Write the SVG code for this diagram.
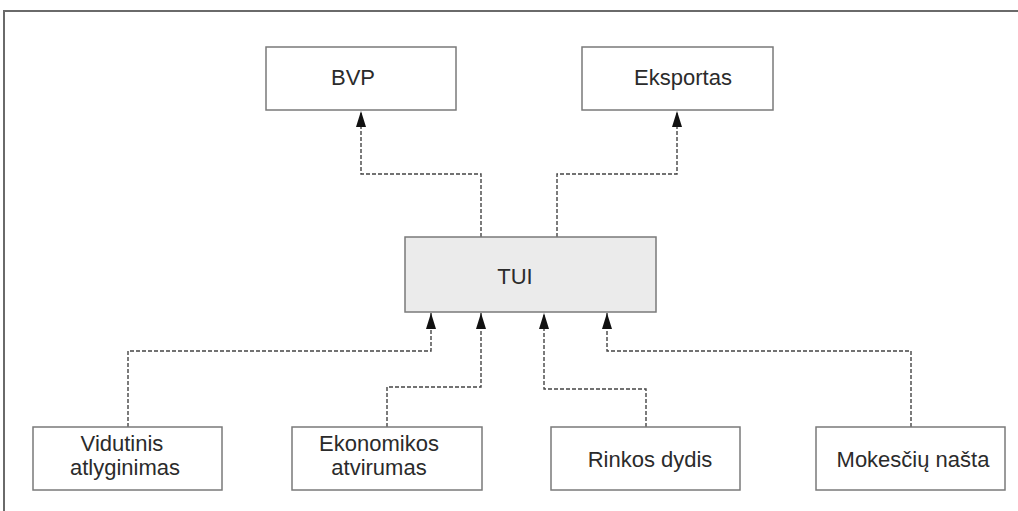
<svg xmlns="http://www.w3.org/2000/svg" width="1018" height="511" viewBox="0 0 1018 511">
<style>
.box{fill:#ffffff;stroke:#7a7a7a;stroke-width:1.5}
.hub{fill:#ebebeb;stroke:#7a7a7a;stroke-width:1.5}
.lbl{font-family:"Liberation Sans",Arial,sans-serif;font-size:22px;fill:#2b2b2b;text-anchor:middle}
.conn{fill:none;stroke:#444444;stroke-width:1.4;stroke-dasharray:4,2}
.frame{fill:none;stroke:#6a6a6a;stroke-width:2}
</style>
<defs>
<marker id="arr" markerUnits="userSpaceOnUse" markerWidth="16" markerHeight="11" viewBox="0 0 16 11" refX="16" refY="5.5" orient="auto">
<path d="M0,0.5 L16,5.5 L0,10.5 z" fill="#111111"/>
</marker>
</defs>
<rect width="1018" height="511" fill="#ffffff"/>
<path class="frame" d="M4,511 L4,11 L1018,11"/>
<g id="connectors">
<path class="conn" marker-end="url(#arr)" d="M481,237 L481,174 L361,174 L361,111"/>
<path class="conn" marker-end="url(#arr)" d="M557,237 L557,174 L677,174 L677,111"/>
<path class="conn" marker-end="url(#arr)" d="M128,427 L128,351 L431,351 L431,313"/>
<path class="conn" marker-end="url(#arr)" d="M387,427 L387,387 L481,387 L481,313"/>
<path class="conn" marker-end="url(#arr)" d="M646,427 L646,389 L544,389 L544,313"/>
<path class="conn" marker-end="url(#arr)" d="M911,427 L911,351 L607,351 L607,313"/>
</g>
<g id="bvp">
<rect class="box" x="266" y="47" width="190" height="63"/>
<text class="lbl" x="353" y="85">BVP</text>
</g>
<g id="eksportas">
<rect class="box" x="582" y="47" width="191" height="63"/>
<text class="lbl" x="683" y="85">Eksportas</text>
</g>
<g id="tui">
<rect class="hub" x="405" y="237" width="251" height="75"/>
<text class="lbl" x="515" y="284">TUI</text>
</g>
<g id="vidutinis">
<rect class="box" x="33" y="427" width="189" height="63"/>
<text class="lbl" x="122" y="451">Vidutinis</text>
<text class="lbl" x="125" y="475">atlyginimas</text>
</g>
<g id="ekonomikos">
<rect class="box" x="292" y="427" width="190" height="63"/>
<text class="lbl" x="379" y="451">Ekonomikos</text>
<text class="lbl" x="379" y="475">atvirumas</text>
</g>
<g id="rinkos">
<rect class="box" x="551" y="427" width="189" height="63"/>
<text class="lbl" x="650" y="467">Rinkos dydis</text>
</g>
<g id="mokesciu">
<rect class="box" x="816" y="427" width="189" height="63"/>
<text class="lbl" x="913" y="467">Mokesčių našta</text>
</g>
</svg>
